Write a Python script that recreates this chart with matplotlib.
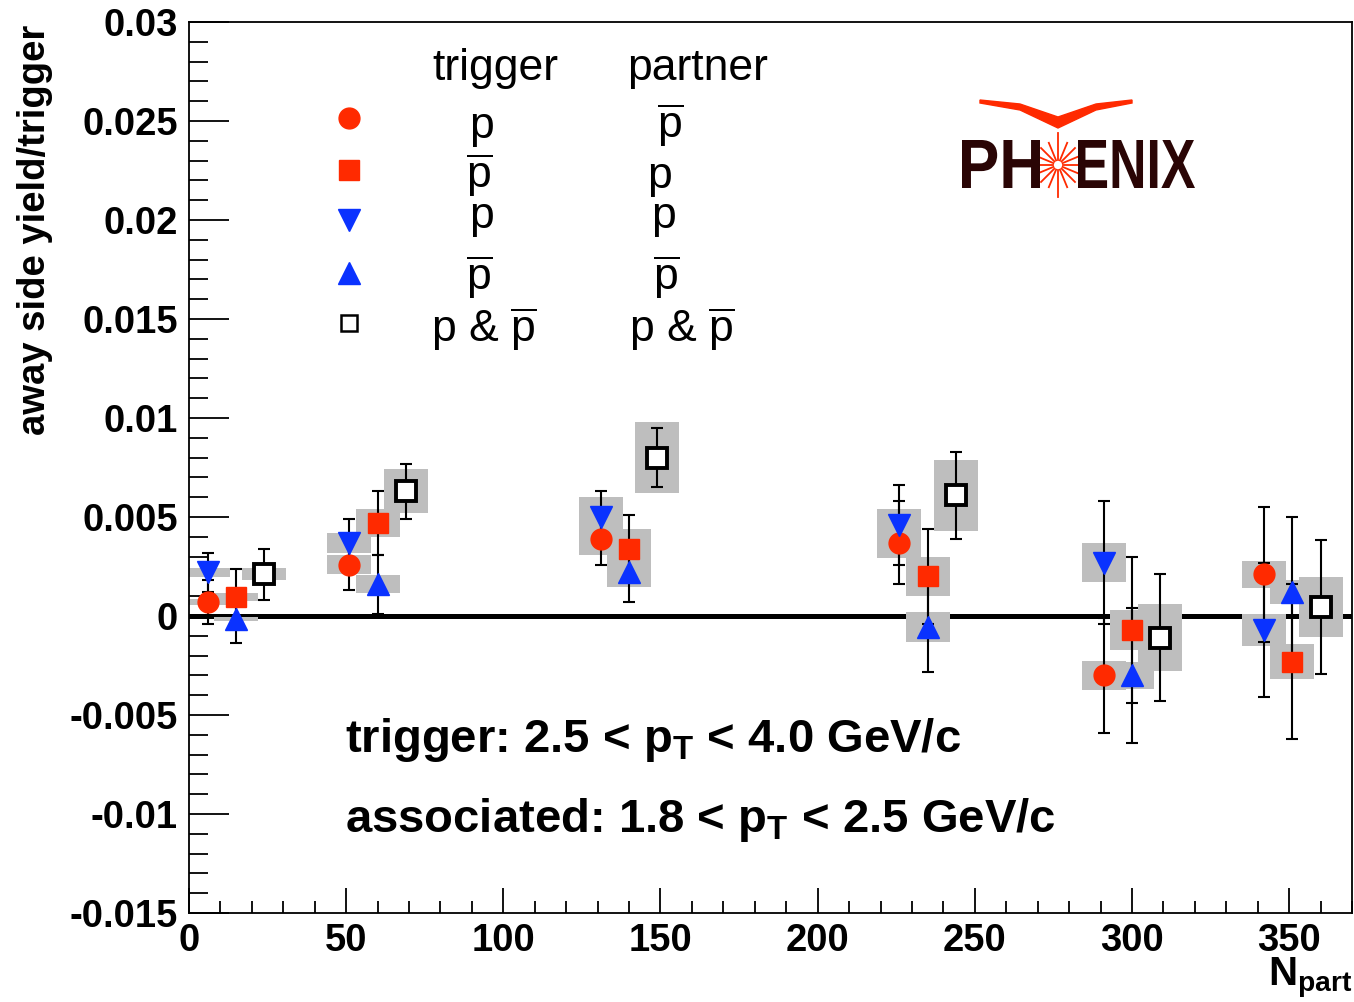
import numpy as np
import matplotlib
matplotlib.use('Agg')
import matplotlib.pyplot as plt
from matplotlib.patches import Rectangle, Polygon, PathPatch
from matplotlib.textpath import TextPath
from matplotlib.font_manager import FontProperties
from matplotlib.transforms import Affine2D, IdentityTransform

plt.rcParams['font.family'] = ['Liberation Sans', 'DejaVu Sans']
plt.rcParams['mathtext.fontset'] = 'custom'
plt.rcParams['mathtext.rm'] = 'Liberation Sans'
plt.rcParams['mathtext.it'] = 'Liberation Sans'
plt.rcParams['mathtext.bf'] = 'Liberation Sans:bold'

# data: trigger p / partner pbar (red circle)
x_circ = [6, 51, 131, 226, 291, 342]
y_circ = [0.0007, 0.0026, 0.0039, 0.0037, -0.0030, 0.0021]
e_circ = [0.0011, 0.0013, 0.0013, 0.0021, 0.0029, 0.0034]
s_circ = [0.00015, 0.0005, 0.0008, 0.00075, 0.00075, 0.0007]

# trigger pbar / partner p (red square)
x_sq = [15, 60, 140, 235, 300, 351]
y_sq = [0.00096, 0.0047, 0.0034, 0.0020, -0.0007, -0.0023]
e_sq = [0.0014, 0.0016, 0.0017, 0.0024, 0.0037, 0.0039]
s_sq = [0.0002, 0.0007, 0.001, 0.001, 0.001, 0.0009]

# trigger p / partner p (blue down triangle)
x_dn = [6, 51, 131, 226, 291, 342]
y_dn = [0.0022, 0.0037, 0.0050, 0.0046, 0.0027, -0.0007]
e_dn = [0.0010, 0.0012, 0.0013, 0.0020, 0.0031, 0.0034]
s_dn = [0.00023, 0.0005, 0.001, 0.0008, 0.001, 0.0008]

# trigger pbar / partner pbar (blue up triangle)
x_up = [15, 60, 140, 235, 300, 351]
y_up = [-0.00015, 0.0016, 0.0022, -0.00055, -0.0030, 0.0012]
e_up = [0.0012, 0.0015, 0.0015, 0.0023, 0.0034, 0.0038]
s_up = [0.0001, 0.00045, 0.00075, 0.00075, 0.0007, 0.0006]

# p & pbar combined (open square)
x_all = [24, 69, 149, 244, 309, 360]
y_all = [0.0021, 0.0063, 0.0080, 0.0061, -0.0011, 0.00045]
e_all = [0.0013, 0.0014, 0.0015, 0.0022, 0.0032, 0.0034]
s_all = [0.0003, 0.0011, 0.0018, 0.0018, 0.0017, 0.0015]

box_hw = 7  # half width of systematic boxes in Npart

red = '#ff2a00'
blue = '#0a32ff'
grey = '#bebebe'

fig = plt.figure(figsize=(13.54, 10.02), dpi=100)
ax = fig.add_axes([189/1354, 1 - 913/1002, 1163/1354, 891/1002])

ax.axhline(0, color='black', lw=3.6, zorder=1)

series = [
    (x_circ, y_circ, e_circ, s_circ, dict(marker='o', ms=15, mfc=red, mec=red)),
    (x_sq, y_sq, e_sq, s_sq, dict(marker='s', ms=14, mfc=red, mec=red)),
    (x_dn, y_dn, e_dn, s_dn, dict(marker='v', ms=16, mfc=blue, mec=blue)),
    (x_up, y_up, e_up, s_up, dict(marker='^', ms=16, mfc=blue, mec=blue)),
    (x_all, y_all, e_all, s_all, dict(marker='s', ms=14, mfc='white', mec='black', mew=2.8)),
]

for xs, ys, es, ss, st in series:
    for xv, yv, sv in zip(xs, ys, ss):
        ax.add_patch(Rectangle((xv - box_hw, yv - sv), 2*box_hw, 2*sv,
                               facecolor=grey, edgecolor='none', zorder=2))
for xs, ys, es, ss, st in series:
    ax.errorbar(xs, ys, yerr=es, fmt='none', ecolor='black', elinewidth=1.5,
                capsize=4, capthick=1.5, zorder=3)
for xs, ys, es, ss, st in series:
    ax.plot(xs, ys, ls='none', zorder=4, **st)

ax.set_xlim(0, 370)
ax.set_ylim(-0.015, 0.03)
ax.set_xticks(np.arange(0, 351, 50))
ax.set_xticks(np.arange(0, 371, 10), minor=True)
ax.set_yticks(np.arange(-0.015, 0.0301, 0.005))
ax.set_yticks(np.arange(-0.015, 0.0301, 0.001), minor=True)
ax.set_yticklabels(['-0.015', '-0.01', '-0.005', '0', '0.005', '0.01', '0.015', '0.02', '0.025', '0.03'])
ax.set_xticklabels(['0', '50', '100', '150', '200', '250', '300', '350'])
ax.tick_params(axis='both', which='both', direction='in', width=1.3, labelsize=27.5)
ax.tick_params(axis='y', which='major', length=29, pad=8)
ax.tick_params(axis='y', which='minor', length=14)
ax.tick_params(axis='x', which='major', length=18, pad=7)
ax.tick_params(axis='x', which='minor', length=9)
for lab in ax.get_xticklabels() + ax.get_yticklabels():
    lab.set_fontweight('bold')
for sp in ax.spines.values():
    sp.set_linewidth(1.3)

fig.text(35/1354, 1 - 25/1002, 'away side yield/trigger', rotation=90, fontsize=27.5,
         fontweight='bold', ha='center', va='top')
fig.text(1352/1354, 1 - 1000/1002, r'N$_{\mathbf{part}}$', fontsize=29, fontweight='bold',
         ha='right', va='bottom')


def fx(px):
    return (px - 189) / 1163


def fy(py):
    return (913 - py) / 891


# legend block
pb = r'$\overline{\mathrm{p}}$'
ax.text(fx(495), fy(80), 'trigger', transform=ax.transAxes, fontsize=32, ha='center', va='baseline')
ax.text(fx(698), fy(80), 'partner', transform=ax.transAxes, fontsize=32, ha='center', va='baseline')
rows = [
    (118, 138, 'p', pb, dict(marker='o', ms=15, mfc=red, mec=red)),
    (170, 188, pb, 'p', dict(marker='s', ms=14, mfc=red, mec=red)),
    (220, 228, 'p', 'p', dict(marker='v', ms=16, mfc=blue, mec=blue)),
    (273, 290, pb, pb, dict(marker='^', ms=16, mfc=blue, mec=blue)),
    (323, 342, 'p & ' + pb, 'p & ' + pb, dict(marker='s', ms=11, mfc='white', mec='black', mew=1.8)),
]
col1 = [482, 479, 482, 479, 484]
col2 = [670, 660, 663, 666, 682]
for (my, by, t1, t2, st), c1, c2 in zip(rows, col1, col2):
    ax.plot([fx(349)], [fy(my)], transform=ax.transAxes, ls='none', clip_on=False, **st)
    ax.text(fx(c1), fy(by), t1, transform=ax.transAxes, fontsize=32, ha='center', va='baseline')
    ax.text(fx(c2), fy(by), t2, transform=ax.transAxes, fontsize=32, ha='center', va='baseline')

# kinematic ranges
ax.text(fx(345), fy(752), r'trigger: 2.5 < p$_{\mathbf{T}}$ < 4.0 GeV/c', transform=ax.transAxes,
        fontsize=34, fontweight='bold', ha='left', va='baseline')
ax.text(fx(345), fy(832), r'associated: 1.8 < p$_{\mathbf{T}}$ < 2.5 GeV/c', transform=ax.transAxes,
        fontsize=34, fontweight='bold', ha='left', va='baseline')

# PHENIX logo (condensed letters drawn as scaled text paths, pixel coords)
logo_col = '#2a0505'
fp = FontProperties(family='Liberation Sans', weight='bold')


def logo_word(word, x0, x1, top, base):
    tp = TextPath((0, 0), word, size=100, prop=fp)
    ext = tp.get_extents()
    sx = (x1 - x0) / ext.width
    sy = (base - top) / ext.height
    tr = Affine2D().translate(-ext.x0, -ext.y0).scale(sx, sy).translate(x0, 1002 - base)
    fig.patches.append(PathPatch(tr.transform_path(tp), transform=IdentityTransform(),
                                 facecolor=logo_col, edgecolor='none'))


logo_word('PH', 962, 1040, 140, 188)
logo_word('ENIX', 1078, 1195, 140, 188)
cx, cy = 1058, 165
for ang in np.arange(0, 360, 22.5):
    r = 32 if ang in (90, 270) else 24
    ax.plot([fx(cx + 5*np.cos(np.radians(ang))), fx(cx + r*np.cos(np.radians(ang)))],
            [fy(cy - 5*np.sin(np.radians(ang))), fy(cy - r*np.sin(np.radians(ang)))],
            transform=ax.transAxes, color=red, lw=1.3)
wing = [(980, 100), (1020, 104), (1058, 117), (1096, 104), (1132, 100),
        (1132, 103), (1096, 110), (1058, 128), (1020, 110), (980, 103)]
ax.add_patch(Polygon([(fx(a), fy(b)) for a, b in wing], closed=True, transform=ax.transAxes,
                     facecolor=red, edgecolor=red, lw=1))

fig.savefig('out.png', dpi=100)
